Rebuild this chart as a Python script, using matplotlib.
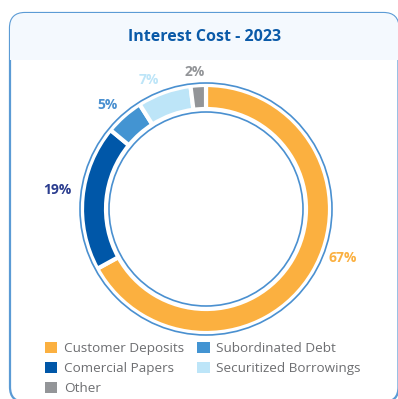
import numpy as np
import matplotlib.pyplot as plt
from matplotlib.patches import FancyBboxPatch, Rectangle, Circle, Patch

plt.rcParams['font.family'] = ['Open Sans', 'DejaVu Sans']

# DATA
title = 'Interest Cost - 2023'
categories = ['Customer Deposits', 'Comercial Papers', 'Subordinated Debt',
              'Securitized Borrowings', 'Other']
shares = [67, 19, 5, 7, 2]
colors = ['#fbb040', '#0057a8', '#4394d2', '#bde5f8', '#939598']
label_colors = ['#fbb040', '#2b3d8f', '#4a90d0', '#bde5f8', '#939598']
# legend reads down the columns
legend_order = [0, 1, 4, 2, 3]

# label placement tweaks (degrees, radius in px)
label_shift = [11.0, -2.0, 2.0, 4.0, 1.0]
label_r = [145, 150, 143, 141, 137]

W, H = 398, 399
fig = plt.figure(figsize=(W / 100, H / 100), dpi=100)

# card background, pixel coords with y going down
bg = fig.add_axes([0, 0, 1, 1])
bg.set_xlim(0, W)
bg.set_ylim(H, 0)
bg.axis('off')

card = FancyBboxPatch((10, 13), 388.5, 389, boxstyle='round,pad=0,rounding_size=15',
                      facecolor='white', edgecolor='#5b9bd5', linewidth=1.6, zorder=1)
bg.add_patch(card)
header = Rectangle((10, 13), 390, 47, facecolor='#f4f9fe', edgecolor='none', zorder=2)
bg.add_patch(header)
header.set_clip_path(card)
bg.text(205, 37, title, ha='center', va='center', fontsize=11.5, fontweight='bold',
        color='#0a5aa8', zorder=3)

# donut
cx, cy = 206, H - 209
S = 320
ax = fig.add_axes([(cx - S / 2) / W, (cy - S / 2) / H, S / W, S / H])

wedges, _ = ax.pie(shares, colors=colors, startangle=90, counterclock=False,
                   radius=124, wedgeprops=dict(width=24, edgecolor='white', linewidth=3))
ax.add_patch(Circle((0, 0), 126, fill=False, edgecolor='#4a90d0', linewidth=1.2))
ax.add_patch(Circle((0, 0), 97, fill=False, edgecolor='#4a90d0', linewidth=1.2))
ax.set_xlim(-S / 2, S / 2)
ax.set_ylim(-S / 2, S / 2)
ax.set_aspect('equal')
ax.axis('off')

for w, val, c, d, r in zip(wedges, shares, label_colors, label_shift, label_r):
    ang = np.deg2rad((w.theta1 + w.theta2) / 2 + d)
    ax.text(r * np.cos(ang), r * np.sin(ang), f'{val}%', ha='center', va='center',
            fontsize=10, fontweight='bold', color=c)

handles = [Patch(facecolor=colors[i], edgecolor='none', label=categories[i])
           for i in legend_order]
fig.legend(handles=handles, ncol=2, loc='upper left', bbox_to_anchor=(45 / W, 1 - 342 / H),
           frameon=False, fontsize=9.7, labelcolor='#6d6e71', handlelength=0.9,
           handleheight=0.9, handletextpad=0.5, columnspacing=1.0, labelspacing=0.5,
           borderaxespad=0, borderpad=0)

fig.savefig('out.png', dpi=100)
